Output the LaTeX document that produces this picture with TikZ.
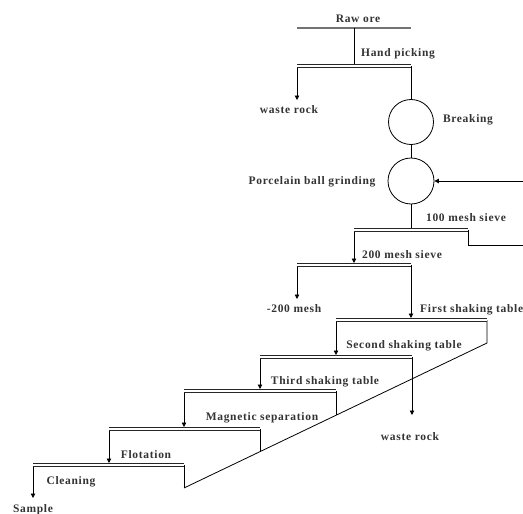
\documentclass[tikz,border=0pt]{standalone}
\usepackage{fontspec}
\setmainfont{Liberation Serif}
\newfontfamily\flowfont[LetterSpace=6]{Liberation Serif}
\usepackage{tikz}
\usetikzlibrary{arrows.meta, positioning, calc}

\begin{document}
\begin{tikzpicture}[x=1pt, y=-1pt,
      lbl/.style={font={\flowfont\bfseries\fontsize{11.5}{13}\selectfont}, text=black!80, inner sep=0pt},
      unit/.style={circle, draw, line width=0.8pt, minimum size=45pt, inner sep=0pt},
      screen/.style={draw=black!85, line width=0.9pt, double=white, double distance=2.2pt},
      feed/.style={line width=0.8pt},
      arr/.style={-{Triangle[length=4.5pt, width=4.5pt]}, line width=0.8pt}
  ]
    \useasboundingbox (0,0) rectangle (523,514);

    % Crushing
    \node[lbl] (raw) at (358,19) {Raw ore};
    \coordinate (raw-l) at (297,28); \coordinate (raw-r) at (411,28); \coordinate (raw-o) at (354,28);
    \coordinate (hp-l) at (297,66); \coordinate (hp-r) at (411,66);
    \node[lbl] (hp) at (398,54) {Hand picking};
    \coordinate (wr1) at (297,100);
    \node[lbl] (wr1-l) at (289,110) {waste rock};
    \node[unit] (brk) at (411,122) {};
    \node[lbl] (brk-l) at (468,120) {Breaking};
    \node[unit, minimum size=46pt] (grd) at (411,181) {};
    \node[lbl] (grd-l) at (312,182) {Porcelain ball grinding};

    % Sieving
    \coordinate (s100-l) at (354,230); \coordinate (s100-r) at (468,230);
    \node[lbl] (s100) at (466,218) {100 mesh sieve};
    \coordinate (ret) at (523,245);
    \coordinate (s200-l) at (297,265); \coordinate (s200-r) at (411,265);
    \node[lbl] (s200) at (402,255) {200 mesh sieve};
    \coordinate (m200) at (297,299);
    \node[lbl] (m200-l) at (294,309) {-200 mesh};

    % Tables and cleaning
    \coordinate (t1-l) at (336,320); \coordinate (t1-r) at (487,320);
    \node[lbl, anchor=west] (t1) at (420,310) {First shaking table};
    \coordinate (t2-l) at (260,357); \coordinate (t2-r) at (412,357);
    \node[lbl] (t2) at (404,346) {Second shaking table};
    \coordinate (wr2) at (412,415);
    \node[lbl] (wr2-l) at (410,437) {waste rock};
    \coordinate (t3-l) at (184,391); \coordinate (t3-r) at (336,391);
    \node[lbl] (t3) at (325,382) {Third shaking table};
    \coordinate (t4-l) at (109,429); \coordinate (t4-r) at (260,429);
    \node[lbl] (t4) at (262,418) {Magnetic separation};
    \coordinate (t5-l) at (33,465); \coordinate (t5-r) at (184,465);
    \node[lbl] (t5) at (146,455) {Flotation};
    \node[lbl] (cln) at (71,482) {Cleaning};
    \coordinate (smp) at (33,498);
    \node[lbl] (smp-l) at (33,510) {Sample};

    % Tailings line
    \coordinate (tl-a) at (487,343); \coordinate (tl-b) at (184,488);
    \coordinate (tl-3) at (336,415.3); \coordinate (tl-4) at (260,451.6);

    % Connections
    \draw[line width=1.4pt, black!55] (raw-l) -- (raw-r);
    \draw[feed] (raw-o) -- (raw-o |- hp-l);
    \draw[arr] (hp-l) -- (wr1); \draw[feed] (hp-r) -- (brk);
    \draw[feed] (brk) -- (grd); \draw[feed] (grd) -- (grd |- s100-l);
    \draw[arr] (s100-r) -- (s100-r |- ret) -- (ret) |- (grd.east);
    \draw[arr, shorten >=2pt] (s100-l) -- (s100-l |- s200-l);
    \draw[arr] (s200-l) -- (m200);
    \draw[arr, shorten >=2pt] (s200-r) -- (s200-r |- t1-l);
    \draw[arr, shorten >=2pt] (t1-l) -- (t1-l |- t2-l);
    \draw[feed] (t1-r) -- (tl-a) -- (tl-b);
    \draw[arr] (t2-r) -- (wr2);
    \draw[arr, shorten >=2pt] (t2-l) -- (t2-l |- t3-l);
    \draw[feed] (t3-r) -- (tl-3);
    \draw[arr, shorten >=2pt] (t3-l) -- (t3-l |- t4-l);
    \draw[feed] (t4-r) -- (tl-4);
    \draw[arr, shorten >=2pt] (t4-l) -- (t4-l |- t5-l);
    \draw[feed] (t5-r) -- (tl-b);
    \draw[arr] (t5-l) -- (smp);

    % Screens
    \draw[screen] (hp-l) -- (hp-r);
    \draw[screen] (s100-l) -- (s100-r);
    \draw[screen] (s200-l) -- (s200-r);
    \draw[screen] (t1-l) -- (t1-r);
    \draw[screen] (t2-l) -- (t2-r);
    \draw[screen] (t3-l) -- (t3-r);
    \draw[screen] (t4-l) -- (t4-r);
    \draw[screen] (t5-l) -- (t5-r);
  \end{tikzpicture}
\end{document}
